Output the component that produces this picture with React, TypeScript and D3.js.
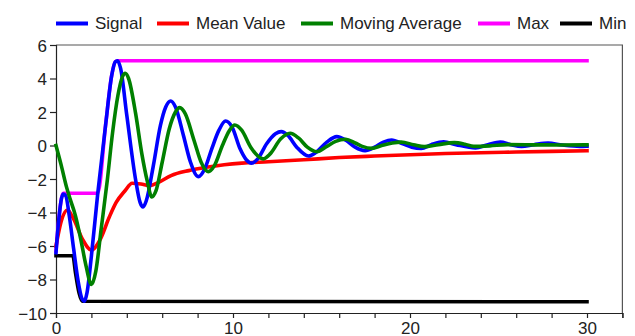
import { useEffect, useRef } from 'react';
import * as d3 from 'd3';

const WIDTH = 635;
const HEIGHT = 336;

// [time, value]
const signal: [number, number][] = [
  [0, -6.4], [0.15, -4.5], [0.4, -2.9], [0.55, -3.0], [0.75, -4.2], [1.0, -6.2], [1.25, -8.1],
  [1.45, -9.1], [1.6, -9.3], [1.75, -8.8], [2.0, -6.6], [2.36, -2.85], [2.8, 1.2], [3.15, 4.2],
  [3.35, 5.0], [3.47, 5.06], [3.65, 4.6], [4.0, 1.8], [4.5, -2.06], [4.75, -3.4], [4.92, -3.67],
  [5.1, -3.3], [5.5, -1.2], [5.9, 1.2], [6.2, 2.3], [6.48, 2.66], [6.75, 2.3], [7.2, 0.6],
  [7.6, -1.0], [8.04, -1.86], [8.4, -1.4], [8.8, -0.2], [9.2, 0.9], [9.58, 1.46], [9.95, 1.1],
  [10.4, -0.2], [10.75, -0.85], [11.05, -1.05], [11.4, -0.8], [11.9, 0.1], [12.4, 0.7],
  [12.73, 0.83], [13.1, 0.6], [13.6, -0.1], [14.27, -0.63], [14.7, -0.4], [15.3, 0.2],
  [15.86, 0.53], [16.4, 0.3], [16.9, -0.1], [17.46, -0.31], [18.0, -0.1], [18.5, 0.2],
  [18.96, 0.33], [19.6, 0.1], [20.1, -0.1], [20.64, -0.17], [21.2, 0.05], [21.9, 0.22],
  [22.6, 0.05], [23.7, -0.14], [24.4, 0.05], [25.1, 0.2], [25.7, 0.05], [26.3, -0.05],
  [27.0, 0.05], [27.8, 0.14], [28.6, 0.03], [29.6, -0.05], [30, -0.04],
];

const meanValue: [number, number][] = [
  [0, -6.0], [0.3, -4.5], [0.65, -3.85], [1.0, -4.4], [1.5, -5.6], [2.0, -6.25], [2.5, -5.6],
  [3.0, -4.3], [3.4, -3.4], [3.9, -2.7], [4.3, -2.25], [4.8, -2.3], [5.3, -2.4], [5.8, -2.2],
  [6.5, -1.8], [7.5, -1.5], [8.5, -1.3], [9.5, -1.15], [10.5, -1.05], [12, -0.97], [14, -0.85],
  [16, -0.72], [18, -0.63], [20, -0.55], [22, -0.48], [24, -0.43], [26, -0.39], [28, -0.35],
  [30, -0.31],
];

const movingAverage: [number, number][] = [
  [0, 0], [0.3, -1.2], [0.6, -2.5], [0.8, -3.2], [1.1, -4.2], [1.4, -5.6], [1.7, -7.2],
  [2.0, -8.3], [2.25, -7.5], [2.55, -5.0], [2.9, -2.06], [3.2, 0.8], [3.5, 3.0], [3.75, 4.1],
  [3.91, 4.31], [4.1, 4.0], [4.5, 1.9], [4.85, -0.5], [5.15, -2.1], [5.41, -3.07], [5.65, -2.7],
  [6.0, -1.0], [6.4, 1.0], [6.75, 2.0], [6.99, 2.26], [7.3, 1.9], [7.8, 0.3], [8.2, -1.0],
  [8.6, -1.56], [8.95, -1.2], [9.4, 0.0], [9.8, 0.9], [10.1, 1.22], [10.5, 0.9], [11.0, -0.1],
  [11.7, -0.8], [12.1, -0.5], [12.7, 0.4], [13.23, 0.73], [13.7, 0.45], [14.2, -0.1],
  [14.73, -0.37], [15.3, -0.05], [15.8, 0.25], [16.37, 0.37], [16.9, 0.15], [17.3, -0.05],
  [17.83, -0.17], [18.4, 0.0], [19.0, 0.15], [19.5, 0.2], [20.2, 0.05], [20.8, -0.07],
  [21.6, 0.05], [22.5, 0.17], [23.1, 0.08], [23.6, -0.05], [24.5, -0.02], [25.5, 0.05],
  [27, 0.04], [28.5, 0.03], [30, 0.04],
];

const maxValue: [number, number][] = [
  [0, -6.3], [0.15, -4.5], [0.4, -2.85], [2.36, -2.85], [2.8, 1.2], [3.15, 4.2], [3.35, 5.0],
  [3.47, 5.06], [30, 5.06],
];

const minValue: [number, number][] = [
  [0, -6.58], [0.95, -6.58], [1.1, -7.6], [1.3, -8.8], [1.5, -9.3], [30, -9.33],
];

const seriesNames = ['Signal', 'Mean Value', 'Moving Average', 'Max', 'Min'];
const seriesColors = ['#0000ff', '#ff0000', '#008000', '#ff00ff', '#000000'];
const seriesData = [signal, meanValue, movingAverage, maxValue, minValue];
const drawOrder = [3, 4, 1, 0, 2];
const legendX = [56, 157, 301, 478, 560];

const xTicks = d3.range(0, 33, 2);
const xLabels = [0, 10, 20, 30];
const yTicks = d3.range(-10, 7, 2);

export default function App() {
  const svgRef = useRef<SVGSVGElement>(null);

  useEffect(() => {
    if (!svgRef.current) return;
    const svg = d3.select(svgRef.current);
    svg.selectAll('*').remove();

    const x = d3.scaleLinear().domain([0, 32]).range([56, 622.4]);
    const y = d3.scaleLinear().domain([-10, 6]).range([313, 45]);
    const font = '"Liberation Sans", Arial, sans-serif';

    // frame
    svg.append('path')
      .attr('d', `M${x(0)},${y(6)}H${x(32)}V${y(-10)}`)
      .attr('fill', 'none').attr('stroke', '#555').attr('stroke-width', 1.2);

    const xAxis = svg.append('g').attr('transform', `translate(0,${y(-10)})`)
      .call(d3.axisBottom(x).tickValues(xTicks).tickSize(5).tickPadding(4)
        .tickFormat(d => (xLabels.includes(+d) ? d3.format('d')(+d) : '')));
    const yAxis = svg.append('g').attr('transform', `translate(${x(0)},0)`)
      .call(d3.axisLeft(y).tickValues(yTicks).tickSize(6).tickPadding(3).tickFormat(d3.format('d')));

    [xAxis, yAxis].forEach(g => {
      g.select('.domain').attr('stroke', '#222').attr('stroke-width', 1.2);
      g.selectAll('.tick line').attr('stroke', '#222').attr('stroke-width', 1.2);
      g.selectAll('.tick text').attr('fill', '#222')
        .style('font-family', font).style('font-size', '17px');
    });
    yAxis.selectAll('.tick text').attr('dy', '0.36em');

    const line = d3.line<[number, number]>()
      .x(d => x(d[0])).y(d => y(d[1]))
      .curve(d3.curveMonotoneX);

    drawOrder.forEach(i => {
      svg.append('path')
        .datum(seriesData[i])
        .attr('d', line)
        .attr('fill', 'none')
        .attr('stroke', seriesColors[i])
        .attr('stroke-width', 3.6)
        .attr('stroke-linejoin', 'round')
        .attr('stroke-linecap', 'square');
    });

    const legend = svg.append('g');
    seriesNames.forEach((name, i) => {
      const item = legend.append('g').attr('transform', `translate(${legendX[i]},23.5)`);
      item.append('line')
        .attr('x1', 0).attr('x2', 32)
        .attr('stroke', seriesColors[i]).attr('stroke-width', 4);
      item.append('text')
        .attr('x', 39).attr('dy', '0.35em')
        .attr('fill', '#222')
        .style('font-family', font).style('font-size', '17px')
        .text(name);
    });
  }, []);

  return (
    <div style={{ position: 'fixed', left: 0, top: 0, background: '#fff' }}>
      <svg ref={svgRef} width={WIDTH} height={HEIGHT} style={{ display: 'block' }} />
    </div>
  );
}
